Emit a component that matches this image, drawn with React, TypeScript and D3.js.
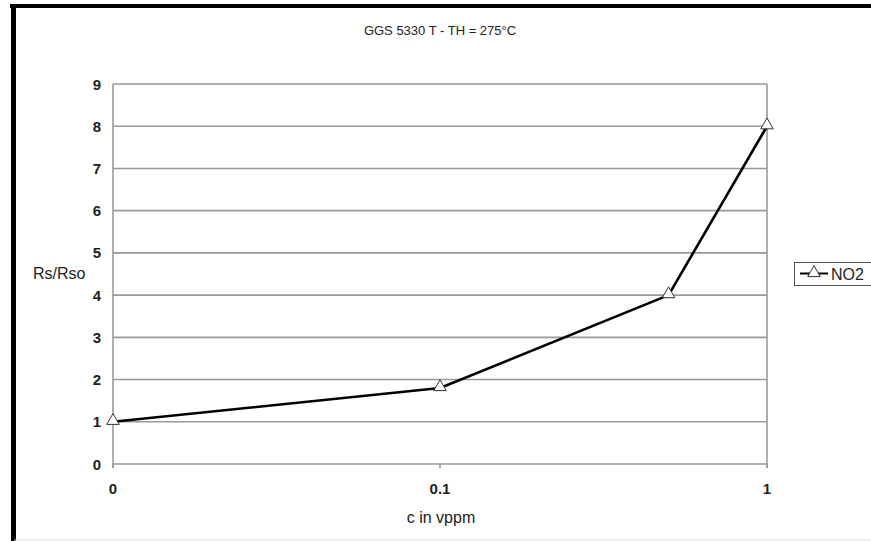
import React from "react";
import * as d3 from "d3";

const xValues = [0, 0.1, 0.5, 1];
const yValues = [1, 1.8, 4, 8];
const xTickValues = [0, 0.1, 1];
const xTickLabels = ["0", "0.1", "1"];
const yTicks = [0, 1, 2, 3, 4, 5, 6, 7, 8, 9];
const seriesName = "NO2";
const title = "GGS 5330 T - TH = 275°C";
const xTitle = "c in vppm";
const yTitle = "Rs/Rso";

// x axis: 0 placed at category position 0, then log decades
const tx = (v: number) => (v === 0 ? 0 : 2 + Math.log10(v));

export default function App() {
  const W = 871, H = 541;
  const left = 113, right = 767, top = 84, bottom = 464;
  const x = d3.scaleLinear().domain([0, 2]).range([left, right]);
  const y = d3.scaleLinear().domain([0, 9]).range([bottom, top]);
  const line = d3.line<number>().x((_, i) => x(tx(xValues[i]))).y((d) => y(d));
  const tri = d3.symbol().type(d3.symbolTriangle).size(68)();
  const font = "'Liberation Sans', Arial, sans-serif";
  return (
    <svg width={W} height={H} style={{ position: "absolute", left: 0, top: 0, background: "#fff" }} fontFamily={font}>
      <rect x={0} y={0} width={W} height={H} fill="#fff" />
      {/* outer frame */}
      <line x1={10} y1={6} x2={W} y2={6} stroke="#000" strokeWidth={4} />
      <line x1={13.5} y1={4} x2={13.5} y2={H} stroke="#000" strokeWidth={5} />
      <line x1={14} y1={540} x2={W} y2={540} stroke="#ddd" strokeWidth={1} />
      <text x={440} y={35} textAnchor="middle" fontSize={13} fill="#222">{title}</text>
      {/* gridlines */}
      {yTicks.map((t) => (
        <line key={t} x1={left} x2={right} y1={y(t)} y2={y(t)} stroke="#999" strokeWidth={1.6} />
      ))}
      <line x1={left} x2={left} y1={top} y2={bottom + 4} stroke="#999" strokeWidth={1.6} />
      <line x1={right} x2={right} y1={top} y2={bottom + 4} stroke="#999" strokeWidth={1.6} />
      {xTickValues.map((v) => (
        <line key={v} x1={x(tx(v))} x2={x(tx(v))} y1={bottom} y2={bottom + 4} stroke="#999" strokeWidth={1.6} />
      ))}
      {yTicks.map((t) => (
        <text key={t} x={101} y={y(t) + 5.5} textAnchor="end" fontSize={15} fontWeight="bold" fill="#222">{t}</text>
      ))}
      {xTickValues.map((v, i) => (
        <text key={v} x={x(tx(v))} y={494} textAnchor="middle" fontSize={15} fontWeight="bold" fill="#222">{xTickLabels[i]}</text>
      ))}
      <text x={441} y={523} textAnchor="middle" fontSize={16} fill="#222">{xTitle}</text>
      <text x={33} y={279} fontSize={16} fill="#222">{yTitle}</text>
      <path d={line(yValues) || ""} fill="none" stroke="#000" strokeWidth={2.6} strokeLinejoin="round" />
      {yValues.map((v, i) => (
        <path key={i} d={tri || ""} transform={`translate(${x(tx(xValues[i]))},${y(v) - 1})`} fill="#fff" stroke="#333" strokeWidth={1} />
      ))}
      {/* legend */}
      <rect x={794.5} y={262.5} width={80} height={23} fill="#fff" stroke="#555" strokeWidth={1} />
      <line x1={800} x2={828} y1={273.5} y2={273.5} stroke="#000" strokeWidth={2} />
      <path d={tri || ""} transform="translate(814,273)" fill="#fff" stroke="#333" strokeWidth={1} />
      <text x={831} y={280} fontSize={16} fill="#222">{seriesName}</text>
    </svg>
  );
}
